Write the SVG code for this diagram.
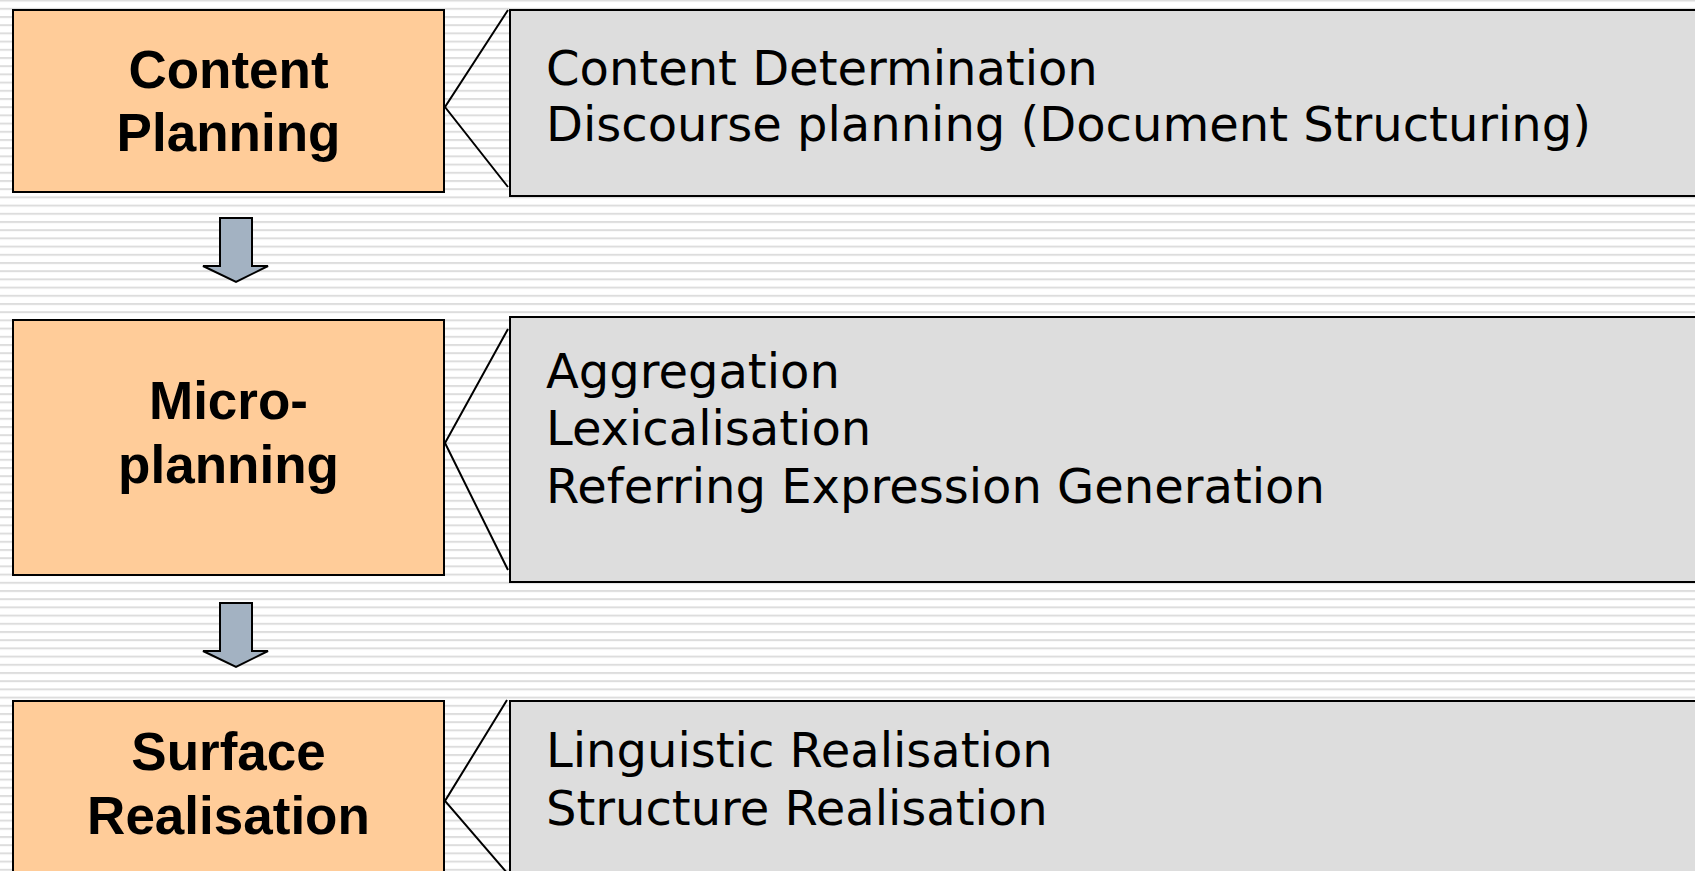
<svg xmlns="http://www.w3.org/2000/svg" width="1695" height="871" viewBox="0 0 1695 871">
<defs>
<pattern id="stripes" x="0" y="-0.4" width="20" height="8.2" patternUnits="userSpaceOnUse">
<rect x="0" y="0" width="20" height="2" fill="#dddddd"/>
</pattern>
</defs>
<style>
.stage{fill:#ffcc99;stroke:#000;stroke-width:2}
.detail{fill:#dddddd;stroke:#000;stroke-width:2}
.stxt{font-family:"Liberation Sans",Arial,sans-serif;font-weight:bold;font-size:53px;fill:#000;text-anchor:middle}
.dtxt{font-family:"DejaVu Sans",Verdana,sans-serif;font-size:48px;fill:#000}
.callout{fill:none;stroke:#000;stroke-width:2}
.arrow{fill:#a3b2c2;stroke:#000;stroke-width:2;stroke-linejoin:miter}
</style>
<rect width="1695" height="871" fill="#ffffff"/>
<rect width="1695" height="871" fill="url(#stripes)"/>

<g id="connectors">
<polyline class="callout" points="508,10 445,107 508,187"/>
<polyline class="callout" points="508,329 445,443 508,570"/>
<polyline class="callout" points="507,700 445,801 508,874"/>
<polygon class="arrow" points="220,218 252,218 252,266 268,266 236,282 203,266 220,266"/>
<polygon class="arrow" points="220,603 252,603 252,651 268,651 236,667 203,651 220,651"/>
</g>

<g id="content-planning">
<rect class="stage" x="13" y="10" width="431" height="182"/>
<text class="stxt" x="228.5" y="88">Content</text>
<text class="stxt" x="228.5" y="151">Planning</text>
</g>

<g id="content-planning-details">
<rect class="detail" x="510" y="10" width="1200" height="186"/>
<text class="dtxt" x="546" y="85">Content Determination</text>
<text class="dtxt" x="546" y="141">Discourse planning (Document Structuring)</text>
</g>

<g id="microplanning">
<rect class="stage" x="13" y="320" width="431" height="255"/>
<text class="stxt" x="228.5" y="419">Micro-</text>
<text class="stxt" x="228.5" y="483">planning</text>
</g>

<g id="microplanning-details">
<rect class="detail" x="510" y="317" width="1200" height="265"/>
<text class="dtxt" x="546" y="388">Aggregation</text>
<text class="dtxt" x="546" y="445">Lexicalisation</text>
<text class="dtxt" x="546" y="503">Referring Expression Generation</text>
</g>

<g id="surface-realisation">
<rect class="stage" x="13" y="701" width="431" height="200"/>
<text class="stxt" x="228.5" y="770">Surface</text>
<text class="stxt" x="228.5" y="834">Realisation</text>
</g>

<g id="surface-realisation-details">
<rect class="detail" x="510" y="701" width="1200" height="200"/>
<text class="dtxt" x="546" y="767">Linguistic Realisation</text>
<text class="dtxt" x="546" y="825">Structure Realisation</text>
</g>
</svg>
